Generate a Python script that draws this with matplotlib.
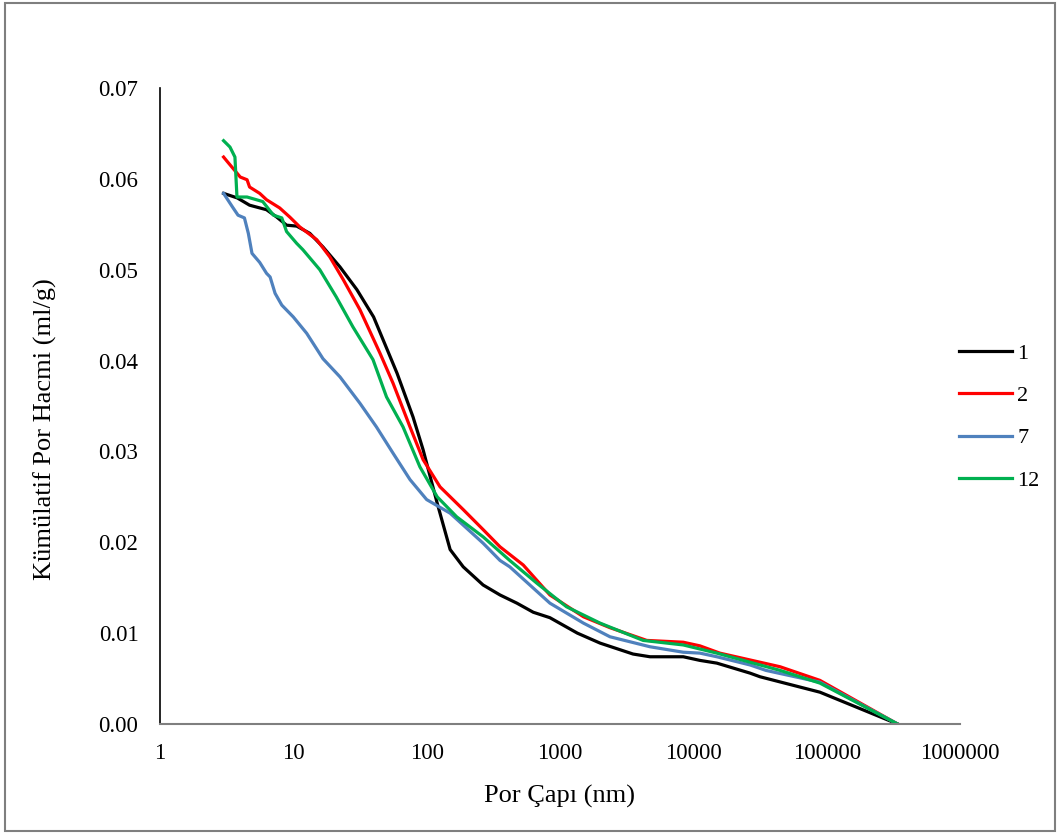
import matplotlib
matplotlib.use('Agg')
import matplotlib.pyplot as plt
from matplotlib.patches import Rectangle
from matplotlib.ticker import FixedLocator, FixedFormatter, FormatStrFormatter

plt.rcParams['font.family'] = ['Liberation Serif', 'DejaVu Serif']

# Pore diameter (nm) and cumulative pore volume (ml/g)
x1 = [3, 3.8, 4.7, 6.3, 7.5, 8.9, 10.6, 13.3, 16.7, 22.4, 30, 40, 60, 79, 94, 120,
      150, 188, 265, 355, 475, 630, 840, 1350, 2000, 3530, 4730, 8400, 11200,
      15000, 26600, 31600, 89000, 340000]
y1 = [0.0584, 0.0579, 0.0571, 0.0566, 0.0558, 0.0549, 0.0548, 0.0540, 0.0525,
      0.0503, 0.0478, 0.0448, 0.0386, 0.0338, 0.0302, 0.0243, 0.0192, 0.0173,
      0.0153, 0.0142, 0.0133, 0.0123, 0.0117, 0.0100, 0.0089, 0.0077, 0.0074,
      0.0074, 0.0070, 0.0067, 0.0056, 0.0052, 0.0035, 0.0]

x2 = [3, 3.2, 4.0, 4.5, 4.7, 5.6, 6.3, 7.9, 9.4, 11.2, 15, 18.8, 23.7, 31.6, 44.7,
      56, 75, 94, 126, 188, 265, 355, 530, 840, 1500, 2370, 4470, 8400, 11200,
      15800, 44700, 89000, 340000]
y2 = [0.0624, 0.0619, 0.0602, 0.0599, 0.0591, 0.0584, 0.0577, 0.0568, 0.0558,
      0.0547, 0.0533, 0.0514, 0.0489, 0.0456, 0.0408, 0.0375, 0.0327, 0.0291,
      0.0261, 0.0236, 0.0214, 0.0195, 0.0175, 0.0142, 0.0118, 0.0106, 0.0092,
      0.0090, 0.0086, 0.0078, 0.0063, 0.0048, 0.0]

x7 = [3, 3.5, 3.85, 4.3, 4.6, 4.9, 5.6, 6.3, 6.7, 7.3, 8.2, 10, 12.6, 16.7, 22.4,
      31.6, 42, 56, 75, 100, 150, 265, 355, 420, 840, 1500, 2370, 4730, 8400,
      11200, 15000, 26600, 35000, 89000, 340000]
y7 = [0.0584, 0.0569, 0.0560, 0.0557, 0.0540, 0.0518, 0.0508, 0.0496, 0.0492,
      0.0474, 0.0461, 0.0448, 0.0430, 0.0402, 0.0382, 0.0353, 0.0327, 0.0298,
      0.0269, 0.0247, 0.0232, 0.0199, 0.0180, 0.0173, 0.0133, 0.0111, 0.0096,
      0.0085, 0.0079, 0.0078, 0.0074, 0.0065, 0.0059, 0.0046, 0.0]

x12 = [3, 3.35, 3.65, 3.78, 4.5, 5.9, 7.1, 8.2, 8.9, 10.6, 11.8, 15.8, 21, 28,
       39.6, 50, 66.5, 89, 120, 168, 265, 420, 670, 1120, 2000, 4200, 8400,
       15000, 26600, 44700, 89000, 340000]
y12 = [0.0642, 0.0635, 0.0624, 0.0580, 0.0580, 0.0575, 0.0560, 0.0557, 0.0542,
       0.0529, 0.0522, 0.0500, 0.0470, 0.0437, 0.0401, 0.0360, 0.0327, 0.0283,
       0.0250, 0.0228, 0.0206, 0.0180, 0.0155, 0.0129, 0.0111, 0.0092, 0.0087,
       0.0078, 0.0068, 0.0059, 0.0045, 0.0]

x_ticks = [1, 10, 100, 1000, 10000, 100000, 1000000]
x_tick_labels = ['1', '10', '100', '1000', '10000', '100000', '1000000']

fig = plt.figure(figsize=(10.6, 8.34), dpi=100)
ax = fig.add_axes([0.1509, 0.1319, 0.7548, 0.7626])

ax.plot(x1, y1, color='black', lw=2.3, label='1')
ax.plot(x2, y2, color='#ff0000', lw=2.3, label='2')
ax.plot(x7, y7, color='#4f81bd', lw=2.3, label='7')
ax.plot(x12, y12, color='#00b050', lw=2.3, label='12')

ax.set_xscale('log')
ax.set_xlim(1, 1000000)
ax.set_ylim(0, 0.07)
ax.xaxis.set_major_locator(FixedLocator(x_ticks))
ax.xaxis.set_major_formatter(FixedFormatter(x_tick_labels))
ax.xaxis.set_minor_locator(FixedLocator([]))
ax.set_yticks([0.0, 0.01, 0.02, 0.03, 0.04, 0.05, 0.06, 0.07])
ax.yaxis.set_major_formatter(FormatStrFormatter('%.2f'))
ax.tick_params(length=0, labelsize=16.5)
ax.tick_params(axis='y', pad=15.5)
ax.tick_params(axis='x', pad=13.5)

for s in ['top', 'right']:
    ax.spines[s].set_visible(False)
ax.spines['left'].set_color('black')
ax.spines['left'].set_linewidth(1.2)
ax.spines['bottom'].set_color('#7f7f7f')
ax.spines['bottom'].set_linewidth(1.5)

ax.set_xlabel('Por Çapı (nm)', fontsize=19, labelpad=15)
ax.set_ylabel('Kümülatif Por Hacmi (ml/g)', fontsize=19)
ax.yaxis.set_label_coords(-0.129, 0.464)

fig.legend(loc='center left', bbox_to_anchor=(0.886, 0.50), frameon=False,
           fontsize=16, handlelength=2.4, handletextpad=0.22, labelspacing=0.98)

fig.add_artist(Rectangle((0.005, 0.003), 0.99, 0.994, transform=fig.transFigure,
                         fill=False, edgecolor='#7f7f7f', linewidth=1.5))

fig.savefig('out.png', dpi=100)
